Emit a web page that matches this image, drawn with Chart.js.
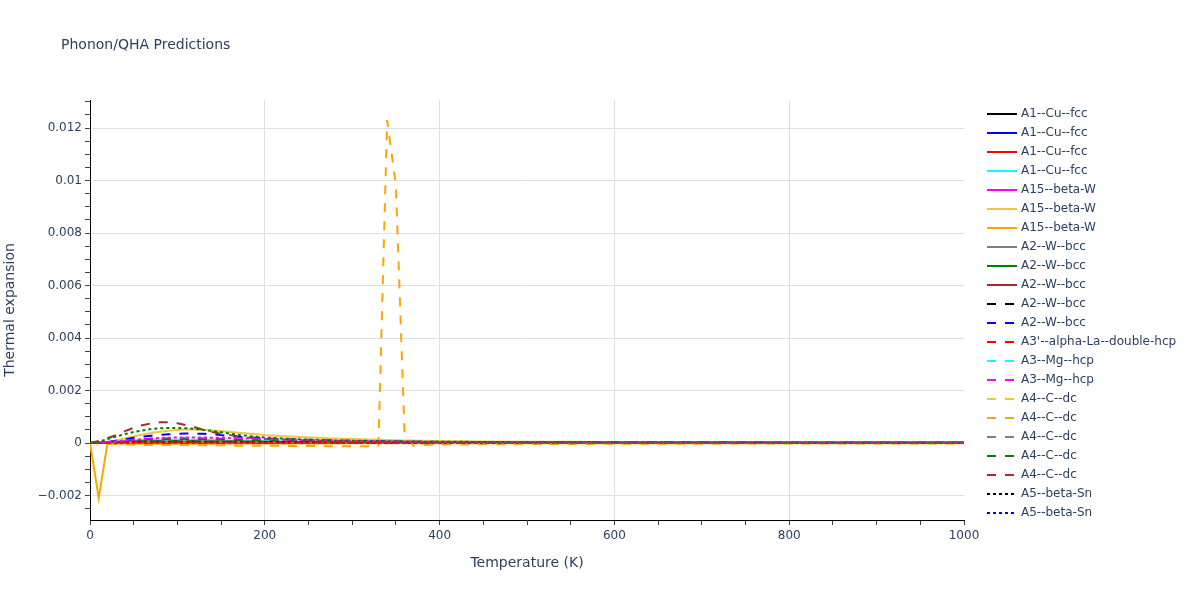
<!DOCTYPE html>
<html><head><meta charset="utf-8">
<script src="https://cdn.jsdelivr.net/npm/chart.js@4/dist/chart.umd.min.js"></script>
<style>html,body{margin:0;padding:0;background:#fff}#wrap{width:1200px;height:600px;position:relative}</style>
</head><body><div id="wrap"><canvas id="c"></canvas></div>
<script>
const chartTitle = 'Phonon/QHA Predictions';
const xTitle = 'Temperature (K)';
const yTitle = 'Thermal expansion';

const temps = [0,10,20,30,40,50,60,70,80,90,100,110,120,130,140,150,160,170,180,190,200,220,240,260,280,300,320,340,360,380,400,450,500,550,600,650,700,750,800,850,900,950,1000];
const spikeTemps = [0,10,20,30,40,50,60,70,80,90,100,110,120,130,140,150,160,170,180,190,200,210,220,230,240,250,260,270,280,290,300,310,320,330,340,350,360,370,380,390,400,450,500,550,600,650,700,750,800,850,900,950,1000];

const xTickValues = [0,200,400,600,800,1000];
const xTickLabels = ['0','200','400','600','800','1000'];
const yTickValues = [-0.002,0,0.002,0.004,0.006,0.008,0.01,0.012];
const yTickLabels = ['\u22120.002','0','0.002','0.004','0.006','0.008','0.01','0.012'];

const seriesNames = ['A1--Cu--fcc','A1--Cu--fcc','A1--Cu--fcc','A1--Cu--fcc','A15--beta-W','A15--beta-W','A15--beta-W','A2--W--bcc','A2--W--bcc','A2--W--bcc','A2--W--bcc','A2--W--bcc',"A3'--alpha-La--double-hcp",'A3--Mg--hcp','A3--Mg--hcp','A4--C--dc','A4--C--dc','A4--C--dc','A4--C--dc','A4--C--dc','A5--beta-Sn','A5--beta-Sn','A5--beta-Sn','A5--beta-Sn','A5--beta-Sn'];

const s01 = [0,1e-5,2e-5,4e-5,5e-5,6e-5,6e-5,6e-5,6e-5,6e-5, 6e-5,5e-5,5e-5,5e-5,5e-5,4e-5,4e-5,4e-5,4e-5,3e-5, 3e-5,3e-5,3e-5,3e-5,2e-5,2e-5,2e-5,2e-5,2e-5,2e-5, 2e-5,2e-5,1e-5,1e-5,1e-5,1e-5,1e-5,1e-5,1e-5,1e-5, 1e-5,1e-5,1e-5];
const s02 = [0,0,1e-5,2e-5,3e-5,3e-5,3e-5,3e-5,3e-5,3e-5, 3e-5,3e-5,3e-5,3e-5,3e-5,3e-5,2e-5,2e-5,2e-5,2e-5, 2e-5,2e-5,2e-5,2e-5,2e-5,2e-5,2e-5,1e-5,1e-5,1e-5, 1e-5,1e-5,1e-5,1e-5,1e-5,0,0,0,0,0, 0,0,0];
const s03 = [0,0,0,1e-5,1e-5,1e-5,1e-5,1e-5,1e-5,1e-5, 1e-5,1e-5,1e-5,1e-5,1e-5,1e-5,1e-5,1e-5,1e-5,1e-5, 1e-5,1e-5,1e-5,1e-5,1e-5,0,0,0,0,0, 0,0,0,0,0,0,0,0,0,0, 0,0,0];
const s04 = [0,1e-5,3e-5,6e-5,8e-5,10e-5,11e-5,12e-5,12e-5,12e-5, 12e-5,12e-5,12e-5,11e-5,11e-5,10e-5,10e-5,9e-5,9e-5,8e-5, 8e-5,7e-5,6e-5,6e-5,5e-5,5e-5,4e-5,4e-5,4e-5,3e-5, 3e-5,3e-5,2e-5,2e-5,2e-5,2e-5,1e-5,1e-5,1e-5,1e-5, 1e-5,1e-5,1e-5];
const s05 = [0,1e-5,2e-5,4e-5,5e-5,6e-5,6e-5,7e-5,7e-5,7e-5, 7e-5,7e-5,6e-5,6e-5,6e-5,5e-5,5e-5,5e-5,5e-5,4e-5, 4e-5,4e-5,3e-5,3e-5,3e-5,3e-5,2e-5,2e-5,2e-5,2e-5, 2e-5,2e-5,1e-5,1e-5,1e-5,1e-5,1e-5,1e-5,1e-5,1e-5, 1e-5,0,0];
const s06 = [0,1e-5,4e-5,10e-5,17e-5,25e-5,32e-5,38e-5,43e-5,47e-5, 50e-5,51e-5,51e-5,50e-5,48e-5,45e-5,42e-5,39e-5,36e-5,33e-5, 30e-5,26e-5,23e-5,20e-5,17e-5,15e-5,13e-5,11e-5,10e-5,9e-5, 8e-5,6e-5,5e-5,5e-5,4e-5,4e-5,3e-5,3e-5,3e-5,3e-5, 2e-5,2e-5,2e-5];
const s07 = [0,-210e-5,0,-2e-5,-2e-5,-3e-5,-3e-5,-3e-5,-3e-5,-3e-5, -3e-5,-3e-5,-3e-5,-3e-5,-3e-5,-2e-5,-2e-5,-2e-5,-2e-5,-2e-5, -2e-5,-2e-5,-2e-5,-2e-5,-2e-5,-1e-5,-1e-5,-1e-5,-1e-5,-1e-5, -1e-5,-1e-5,-1e-5,-1e-5,-1e-5,-1e-5,-1e-5,-1e-5,-1e-5,-1e-5, -1e-5,-1e-5,-1e-5];
const s08 = [0,1e-5,3e-5,5e-5,6e-5,7e-5,8e-5,8e-5,8e-5,8e-5, 8e-5,8e-5,7e-5,7e-5,7e-5,6e-5,6e-5,6e-5,5e-5,5e-5, 5e-5,4e-5,4e-5,4e-5,3e-5,3e-5,3e-5,3e-5,2e-5,2e-5, 2e-5,2e-5,2e-5,1e-5,1e-5,1e-5,1e-5,1e-5,1e-5,1e-5, 1e-5,1e-5,1e-5];
const s09 = [0,1e-5,2e-5,4e-5,5e-5,6e-5,7e-5,7e-5,7e-5,7e-5, 7e-5,7e-5,7e-5,6e-5,6e-5,6e-5,6e-5,5e-5,5e-5,5e-5, 5e-5,4e-5,4e-5,4e-5,3e-5,3e-5,3e-5,3e-5,3e-5,2e-5, 2e-5,2e-5,2e-5,2e-5,1e-5,1e-5,1e-5,1e-5,1e-5,1e-5, 1e-5,1e-5,1e-5];
const s10 = [0,0,1e-5,1e-5,2e-5,2e-5,2e-5,2e-5,2e-5,2e-5, 2e-5,2e-5,2e-5,2e-5,2e-5,2e-5,2e-5,2e-5,2e-5,1e-5, 1e-5,1e-5,1e-5,1e-5,1e-5,1e-5,1e-5,1e-5,1e-5,1e-5, 1e-5,1e-5,0,0,0,0,0,0,0,0, 0,0,0];
const s11 = [0,1e-5,2e-5,3e-5,4e-5,5e-5,5e-5,5e-5,5e-5,5e-5, 5e-5,5e-5,5e-5,4e-5,4e-5,4e-5,4e-5,4e-5,3e-5,3e-5, 3e-5,3e-5,3e-5,2e-5,2e-5,2e-5,2e-5,2e-5,2e-5,2e-5, 1e-5,1e-5,1e-5,1e-5,1e-5,1e-5,1e-5,1e-5,1e-5,0, 0,0,0];
const s12 = [0,1e-5,4e-5,9e-5,14e-5,20e-5,24e-5,28e-5,31e-5,33e-5, 35e-5,36e-5,36e-5,35e-5,33e-5,30e-5,27e-5,24e-5,22e-5,20e-5, 18e-5,15e-5,13e-5,11e-5,9e-5,8e-5,7e-5,6e-5,5e-5,5e-5, 4e-5,3e-5,3e-5,2e-5,2e-5,2e-5,2e-5,1e-5,1e-5,1e-5, 1e-5,1e-5,1e-5];
const s13 = [0,0,1e-5,1e-5,1e-5,1e-5,1e-5,1e-5,1e-5,1e-5, 1e-5,1e-5,1e-5,1e-5,1e-5,1e-5,1e-5,1e-5,1e-5,1e-5, 1e-5,1e-5,1e-5,1e-5,1e-5,0,0,0,0,0, 0,0,0,0,0,0,0,0,0,0, 0,0,0];
const s14 = [0,1e-5,2e-5,4e-5,6e-5,7e-5,8e-5,8e-5,9e-5,9e-5, 9e-5,9e-5,9e-5,8e-5,8e-5,8e-5,7e-5,7e-5,7e-5,6e-5, 6e-5,5e-5,5e-5,4e-5,4e-5,4e-5,3e-5,3e-5,3e-5,3e-5, 2e-5,2e-5,2e-5,2e-5,1e-5,1e-5,1e-5,1e-5,1e-5,1e-5, 1e-5,1e-5,1e-5];
const s15 = [0,1e-5,3e-5,6e-5,9e-5,12e-5,14e-5,16e-5,17e-5,18e-5, 18e-5,18e-5,18e-5,17e-5,17e-5,16e-5,15e-5,14e-5,13e-5,12e-5, 11e-5,10e-5,9e-5,8e-5,7e-5,6e-5,5e-5,5e-5,4e-5,4e-5, 4e-5,3e-5,3e-5,2e-5,2e-5,2e-5,2e-5,1e-5,1e-5,1e-5, 1e-5,1e-5,1e-5];
const s16 = [0,1e-5,2e-5,3e-5,4e-5,5e-5,6e-5,6e-5,6e-5,6e-5, 6e-5,6e-5,6e-5,6e-5,6e-5,5e-5,5e-5,5e-5,5e-5,5e-5, 4e-5,4e-5,4e-5,3e-5,3e-5,3e-5,3e-5,2e-5,2e-5,2e-5, 2e-5,2e-5,2e-5,1e-5,1e-5,1e-5,1e-5,1e-5,1e-5,1e-5, 1e-5,1e-5,1e-5];
const s17 = [0,-2e-5,-4e-5,-5e-5,-6e-5,-7e-5,-7e-5,-8e-5,-8e-5,-8e-5, -8e-5,-8e-5,-9e-5,-9e-5,-9e-5,-9e-5,-9e-5,-10e-5,-10e-5,-10e-5, -10e-5,-10e-5,-11e-5,-11e-5,-11e-5,-11e-5,-11e-5,-12e-5,-12e-5,-12e-5, -12e-5,-12e-5,-12e-5,-10e-5,1230e-5,980e-5,30e-5,-10e-5,-8e-5,-7e-5, -6e-5,-5e-5,-4e-5,-4e-5,-3e-5,-3e-5,-3e-5,-2e-5,-2e-5,-2e-5, -2e-5,-2e-5,-2e-5];
const s18 = [0,1e-5,2e-5,3e-5,4e-5,5e-5,5e-5,5e-5,5e-5,5e-5, 5e-5,5e-5,4e-5,4e-5,4e-5,4e-5,4e-5,4e-5,3e-5,3e-5, 3e-5,3e-5,3e-5,3e-5,2e-5,2e-5,2e-5,2e-5,2e-5,2e-5, 2e-5,1e-5,1e-5,1e-5,1e-5,1e-5,1e-5,1e-5,1e-5,1e-5, 1e-5,1e-5,1e-5];
const s19 = [0,1e-5,3e-5,6e-5,9e-5,11e-5,12e-5,13e-5,14e-5,14e-5, 14e-5,14e-5,14e-5,13e-5,13e-5,12e-5,12e-5,11e-5,10e-5,10e-5, 9e-5,8e-5,8e-5,7e-5,6e-5,6e-5,5e-5,5e-5,4e-5,4e-5, 4e-5,3e-5,3e-5,2e-5,2e-5,2e-5,2e-5,2e-5,1e-5,1e-5, 1e-5,1e-5,1e-5];
const s20 = [0,8e-5,18e-5,30e-5,45e-5,58e-5,68e-5,75e-5,79e-5,79e-5, 75e-5,68e-5,60e-5,50e-5,42e-5,35e-5,30e-5,25e-5,21e-5,18e-5, 16e-5,13e-5,11e-5,9e-5,8e-5,7e-5,6e-5,5e-5,5e-5,4e-5, 4e-5,3e-5,3e-5,2e-5,2e-5,2e-5,2e-5,1e-5,1e-5,1e-5, 1e-5,1e-5,1e-5];
const s21 = [0,1e-5,2e-5,3e-5,4e-5,5e-5,5e-5,5e-5,5e-5,5e-5, 5e-5,5e-5,5e-5,5e-5,4e-5,4e-5,4e-5,4e-5,4e-5,3e-5, 3e-5,3e-5,3e-5,3e-5,2e-5,2e-5,2e-5,2e-5,2e-5,2e-5, 2e-5,1e-5,1e-5,1e-5,1e-5,1e-5,1e-5,1e-5,1e-5,1e-5, 1e-5,1e-5,1e-5];
const s22 = [0,0,1e-5,2e-5,2e-5,3e-5,3e-5,3e-5,3e-5,3e-5, 3e-5,3e-5,3e-5,3e-5,3e-5,3e-5,3e-5,2e-5,2e-5,2e-5, 2e-5,2e-5,2e-5,2e-5,2e-5,2e-5,1e-5,1e-5,1e-5,1e-5, 1e-5,1e-5,1e-5,1e-5,1e-5,1e-5,0,0,0,0, 0,0,0];
const s23 = [0,0,1e-5,1e-5,1e-5,2e-5,2e-5,2e-5,2e-5,2e-5, 2e-5,2e-5,2e-5,2e-5,2e-5,2e-5,2e-5,2e-5,2e-5,2e-5, 1e-5,1e-5,1e-5,1e-5,1e-5,1e-5,1e-5,1e-5,1e-5,1e-5, 1e-5,1e-5,0,0,0,0,0,0,0,0, 0,0,0];
const s24 = [0,1e-5,3e-5,6e-5,9e-5,12e-5,15e-5,17e-5,19e-5,20e-5, 21e-5,21e-5,21e-5,21e-5,20e-5,20e-5,19e-5,18e-5,17e-5,16e-5, 15e-5,13e-5,12e-5,10e-5,9e-5,8e-5,7e-5,6e-5,5e-5,5e-5, 4e-5,3e-5,3e-5,2e-5,2e-5,2e-5,2e-5,1e-5,1e-5,1e-5, 1e-5,1e-5,1e-5];
const s25 = [0,5e-5,15e-5,25e-5,34e-5,42e-5,48e-5,53e-5,56e-5,57e-5, 57e-5,56e-5,54e-5,50e-5,46e-5,41e-5,36e-5,31e-5,27e-5,24e-5, 21e-5,17e-5,14e-5,12e-5,10e-5,9e-5,8e-5,7e-5,6e-5,5e-5, 5e-5,4e-5,3e-5,3e-5,2e-5,2e-5,2e-5,2e-5,1e-5,1e-5, 1e-5,1e-5,1e-5];

const seriesValues = [s01,s02,s03,s04,s05,s06,s07,s08,s09,s10,s11,s12,s13,s14,s15,s16,s17,s18,s19,s20,s21,s22,s23,s24,s25];
const seriesX = seriesValues.map((s, i) => i === 16 ? spikeTemps : temps);
const inLegend = seriesValues.map((s, i) => i < 22);

const palette = ['#000000','#0000ff','#ff0000','#00ffff','#ff00ff','#eec643','#ffa500','#808080','#008000','#a52a2a'];
const colorIdx = [0,1,2,3,4,5,6,7,8,9,0,1,2,3,4,5,6,7,8,9,0,1,2,4,8];
const dashes = { solid: [], dash: [9,9], dot: [3,3] };
const dashOf = i => i < 10 ? dashes.solid : (i < 20 ? dashes.dash : dashes.dot);

const N = seriesValues.length;
const datasets = seriesValues.map((vals, i) => ({
  label: seriesNames[i],
  data: vals.map((v, k) => ({ x: seriesX[i][k], y: v })),
  borderColor: palette[colorIdx[i]],
  backgroundColor: palette[colorIdx[i]],
  borderWidth: 2,
  borderDash: dashOf(i),
  pointRadius: 0,
  tension: 0,
  fill: false,
  order: N - i,
  showInLegend: inLegend[i]
}));

const isNear = (a, b) => Math.abs(a - b) < 1e-9;
const FONT = '"DejaVu Sans", Verdana, sans-serif';
const TXT = '#2a3f5f';

const overlay = {
  id: 'overlay',
  afterDraw(chart) {
    const ctx = chart.ctx;
    const ca = chart.chartArea;
    ctx.save();
    ctx.fillStyle = TXT;
    ctx.textBaseline = 'middle';
    ctx.font = '14px ' + FONT;
    ctx.textAlign = 'left';
    ctx.fillText(chartTitle, 61, 45);
    ctx.font = '14px ' + FONT;
    ctx.textAlign = 'center';
    ctx.fillText(xTitle, (ca.left + ca.right) / 2, 563);
    ctx.save();
    ctx.translate(10, (ca.top + ca.bottom) / 2);
    ctx.rotate(-Math.PI / 2);
    ctx.fillText(yTitle, 0, 0);
    ctx.restore();
    // legend
    ctx.font = '12px ' + FONT;
    ctx.textAlign = 'left';
    let row = 0;
    chart.data.datasets.forEach(ds => {
      if (!ds.showInLegend) return;
      const y = 114 + 19 * row;
      ctx.save();
      ctx.strokeStyle = ds.borderColor;
      ctx.lineWidth = 2;
      ctx.setLineDash(ds.borderDash);
      ctx.beginPath();
      ctx.moveTo(987, y);
      ctx.lineTo(1017, y);
      ctx.stroke();
      ctx.restore();
      ctx.fillStyle = TXT;
      ctx.fillText(ds.label, 1021, y);
      row++;
    });
    ctx.restore();
  }
};

const yAll = [];
for (let k = -5; k <= 26; k++) yAll.push(k * 0.0005);
const xAll = [];
for (let k = 0; k <= 20; k++) xAll.push(k * 50);

new Chart(document.getElementById('c'), {
  type: 'line',
  data: { datasets },
  plugins: [overlay],
  options: {
    responsive: true,
    maintainAspectRatio: false,
    animation: false,
    layout: { padding: { left: 0, right: 236, top: 100, bottom: 0 } },
    plugins: { legend: { display: false }, title: { display: false }, tooltip: { enabled: false } },
    scales: {
      x: {
        type: 'linear',
        min: 0, max: 1000,
        afterFit: s => { s.height = 80; },
        afterBuildTicks: s => { s.ticks = xAll.map(v => ({ value: v })); },
        border: { display: true, color: '#000', width: 1 },
        grid: {
          color: c => (c.tick && xTickValues.some(v => isNear(v, c.tick.value)) && c.tick.value > 0 && c.tick.value < 1000) ? '#e0e0e0' : 'rgba(0,0,0,0)',
          tickColor: '#444',
          tickLength: 5,
          lineWidth: 1
        },
        ticks: {
          autoSkip: false, maxRotation: 0, padding: 4,
          color: TXT, font: { family: FONT, size: 12 },
          callback: v => { const j = xTickValues.findIndex(t => isNear(t, v)); return j >= 0 ? xTickLabels[j] : ''; }
        }
      },
      y: {
        type: 'linear',
        min: -0.0029333, max: 0.0130667,
        afterFit: s => { s.width = 90; },
        afterBuildTicks: s => { s.ticks = yAll.map(v => ({ value: v })); },
        border: { display: true, color: '#000', width: 1 },
        grid: {
          color: c => (c.tick && yTickValues.some(v => isNear(v, c.tick.value))) ? '#e0e0e0' : 'rgba(0,0,0,0)',
          tickColor: '#444',
          tickLength: 5,
          lineWidth: 1
        },
        ticks: {
          autoSkip: false, padding: 3,
          color: TXT, font: { family: FONT, size: 12 },
          callback: v => { const j = yTickValues.findIndex(t => isNear(t, v)); return j >= 0 ? yTickLabels[j] : ''; }
        }
      }
    }
  }
});
</script></body></html>
